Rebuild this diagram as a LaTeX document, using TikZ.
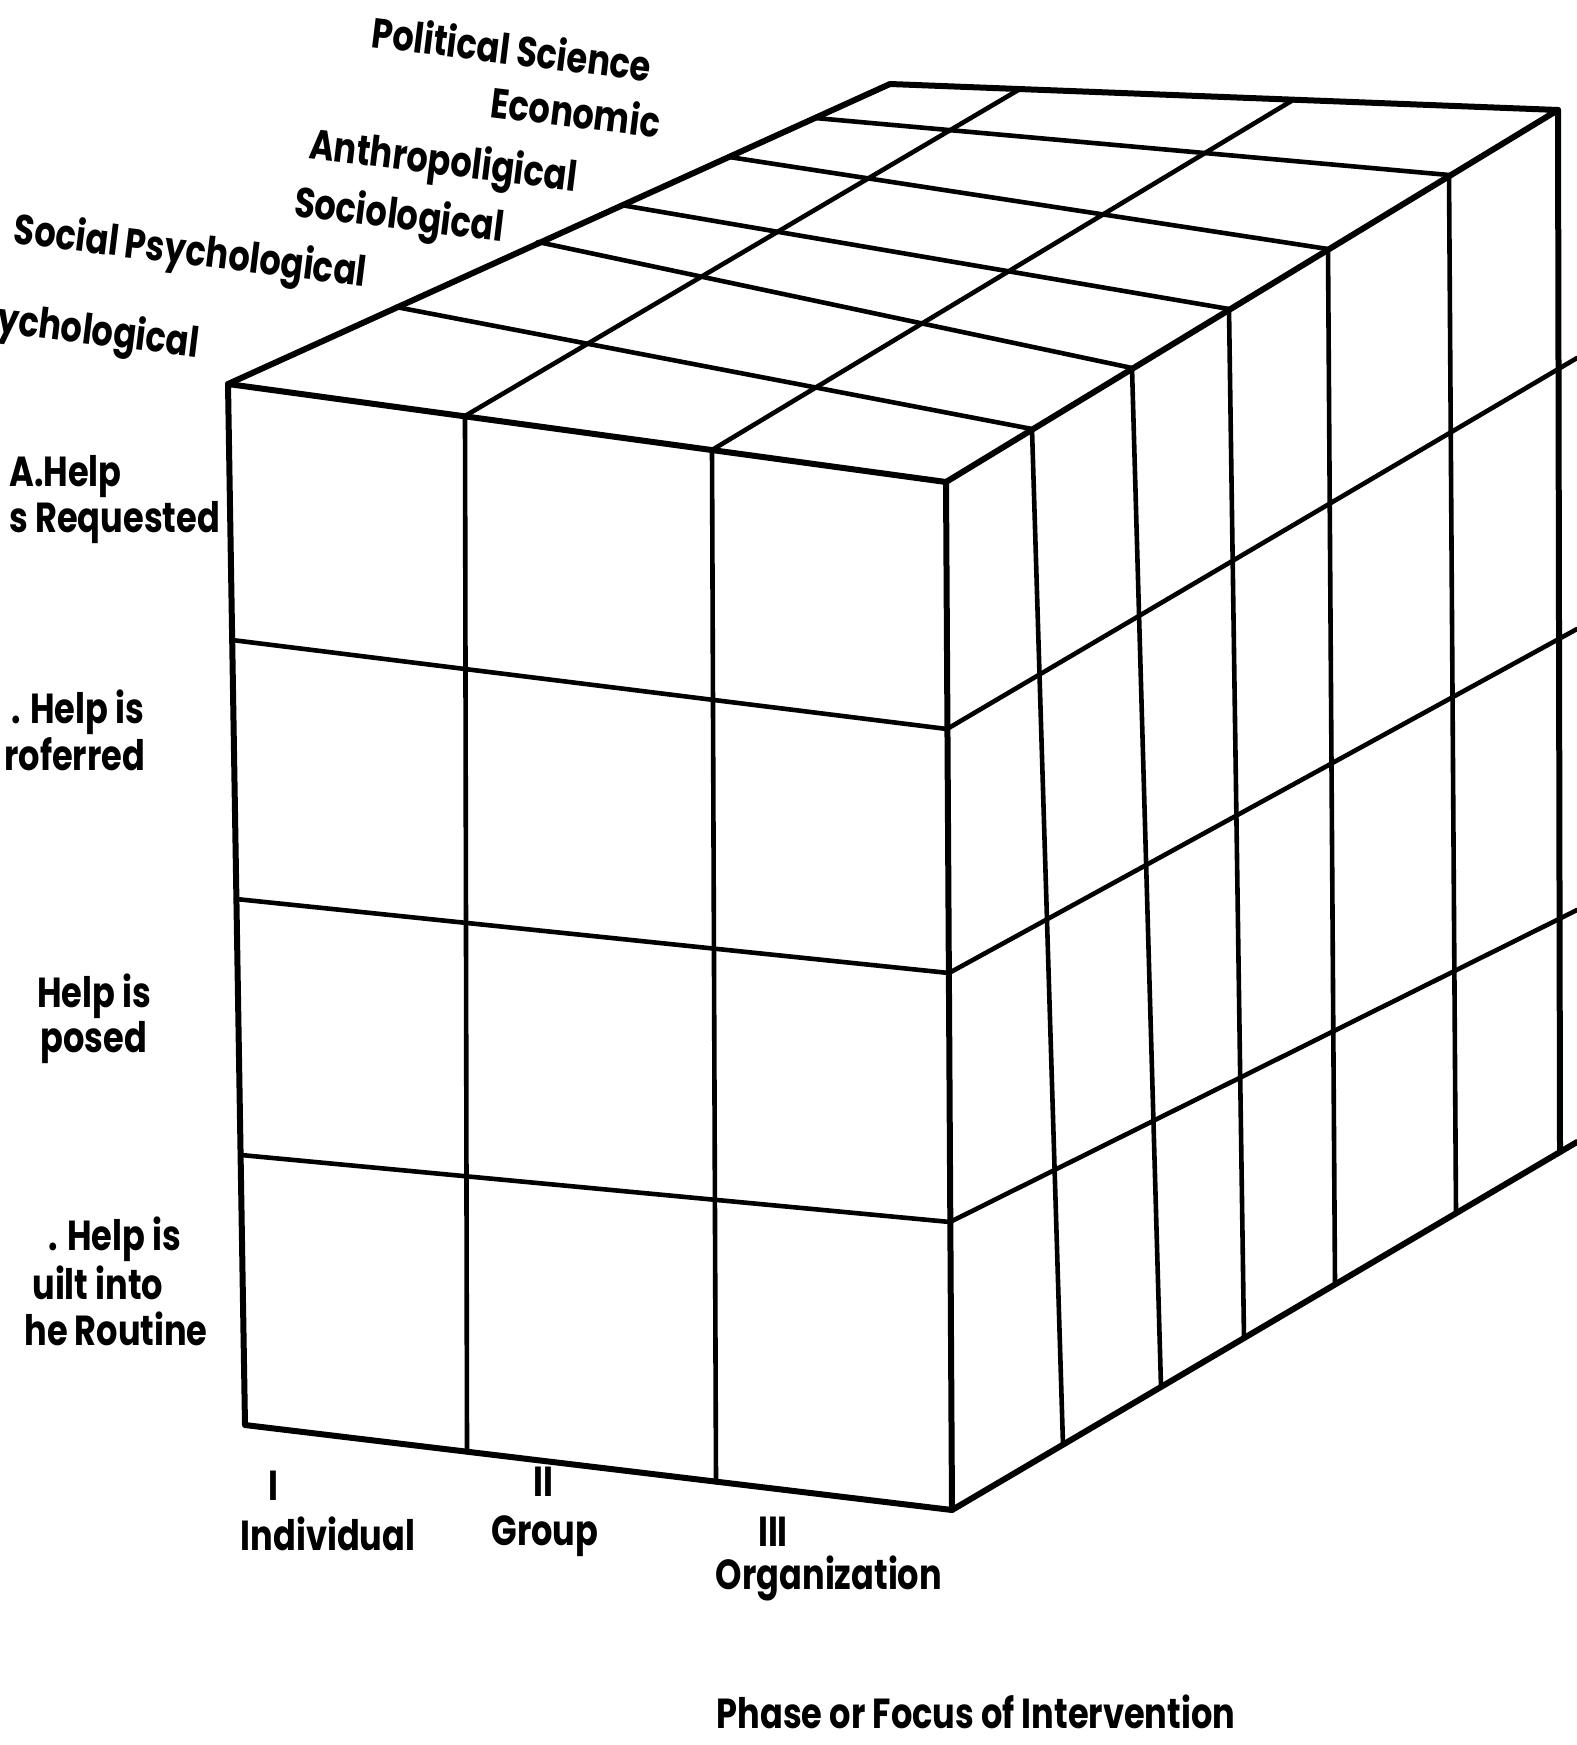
\documentclass[tikz,border=0pt]{standalone}
\usepackage{fontspec}
\setmainfont{Poppins}[FakeStretch=0.80]
\begin{document}
\begin{tikzpicture}[x=0.5pt,y=-0.5pt,
  edge/.style={line width=3pt, line cap=round, line join=round},
  gridline/.style={line width=2.3pt, line cap=round},
  lbl/.style={font=\fontsize{21}{24}\selectfont\bfseries, inner sep=0pt},
  toplbl/.style={lbl, rotate=-7, anchor=center},
  sidelbl/.style={lbl, anchor=base west}]
\fill[white] (0,0) rectangle (1577,1745);
\useasboundingbox (0,0) rectangle (1577,1745);
% corners
\coordinate (FTL) at (228,384);
\coordinate (FTR) at (946,482);
\coordinate (FBL) at (245,1425);
\coordinate (FBR) at (952,1510);
\coordinate (BTL) at (890,84);
\coordinate (BTR) at (1558,110);
\coordinate (BBR) at (1560,1152);
\coordinate (BEnd) at (1577,1142);
% front grid points
\coordinate (V1t) at (465,416);  \coordinate (V1b) at (467,1452);
\coordinate (V2t) at (712,450);  \coordinate (V2b) at (716,1482);
\coordinate (H1l) at (232,640);  \coordinate (H1r) at (947,729);
\coordinate (H2l) at (236,899);  \coordinate (H2r) at (949,973);
\coordinate (H3l) at (241,1155); \coordinate (H3r) at (950,1222);
% right face
\coordinate (R1e) at (1577,358);
\coordinate (R2e) at (1577,629);
\coordinate (R3e) at (1577,910);
\coordinate (RV1t) at (1032,429); \coordinate (RV1b) at (1063,1445);
\coordinate (RV2t) at (1132,368); \coordinate (RV2b) at (1161,1387);
\coordinate (RV3t) at (1229,309); \coordinate (RV3b) at (1244,1338);
\coordinate (RV4t) at (1328,249); \coordinate (RV4b) at (1335,1284);
\coordinate (RV5t) at (1449,175); \coordinate (RV5b) at (1456,1213);
% top face
\coordinate (Ta) at (396,307);
\coordinate (Tb) at (538,242);
\coordinate (Tc) at (621,205);
\coordinate (Td) at (729,157);
\coordinate (Te) at (815,118);
\coordinate (T1e) at (1020,89);
\coordinate (T2e) at (1293,100);

% outline
\draw[edge] (FTR) -- (FTL) -- (FBL) -- (FBR) -- cycle;
\draw[edge] (FTL) -- (BTL) -- (BTR) -- (FTR);
\draw[edge] (BTR) -- (BBR);
\draw[edge] (FBR) -- (BEnd);
% front grid
\draw[gridline] (V1t) -- (V1b);
\draw[gridline] (V2t) -- (V2b);
\draw[gridline] (H1l) -- (H1r);
\draw[gridline] (H2l) -- (H2r);
\draw[gridline] (H3l) -- (H3r);
% right grid
\draw[gridline] (H1r) -- (R1e);
\draw[gridline] (H2r) -- (R2e);
\draw[gridline] (H3r) -- (R3e);
\draw[gridline] (RV1t) -- (RV1b);
\draw[gridline] (RV2t) -- (RV2b);
\draw[gridline] (RV3t) -- (RV3b);
\draw[gridline] (RV4t) -- (RV4b);
\draw[gridline] (RV5t) -- (RV5b);
% top grid
\draw[gridline] (Ta) -- (RV1t);
\draw[gridline] (Tb) -- (RV2t);
\draw[gridline] (Tc) -- (RV3t);
\draw[gridline] (Td) -- (RV4t);
\draw[gridline] (Te) -- (RV5t);
\draw[gridline] (V1t) -- (T1e);
\draw[gridline] (V2t) -- (T2e);

% top labels
\node[toplbl] (pol) at (512,48) {Political Science};
\node[toplbl] (eco) at (576,111) {Economic};
\node[toplbl] (ant) at (443,164) {Anthropoligical};
\node[toplbl] (soc) at (399,218) {Sociological};
\node[toplbl] (sps) at (190,254) {Social Psychological};
\node[toplbl] (psy) at (98,334) {ychological};
% side labels
\node[sidelbl] (a1) at (9,486) {A.Help};
\node[sidelbl] (a2) at (9,532) {s Requested};
\node[sidelbl] (b1) at (11,723) {. Help is};
\node[sidelbl] (b2) at (4,770) {roferred};
\node[sidelbl] (c1) at (37,1007) {Help is};
\node[sidelbl] (c2) at (40,1052) {posed};
\node[sidelbl] (d1) at (48,1250) {. Help is};
\node[sidelbl] (d2) at (32,1299) {uilt into};
\node[sidelbl] (d3) at (24,1345) {he Routine};
% bottom labels
\node[lbl] (n1) at (273,1486) {I};
\node[lbl] (ind) at (328,1534) {Individual};
\node[lbl] (n2) at (543,1482) {II};
\node[lbl] (grp) at (545,1536) {Group};
\node[lbl] (n3) at (773,1532) {III};
\node[lbl] (org) at (829,1578) {Organization};
\node[lbl] (phase) at (976,1712) {Phase or Focus of Intervention};
\end{tikzpicture}
\end{document}
